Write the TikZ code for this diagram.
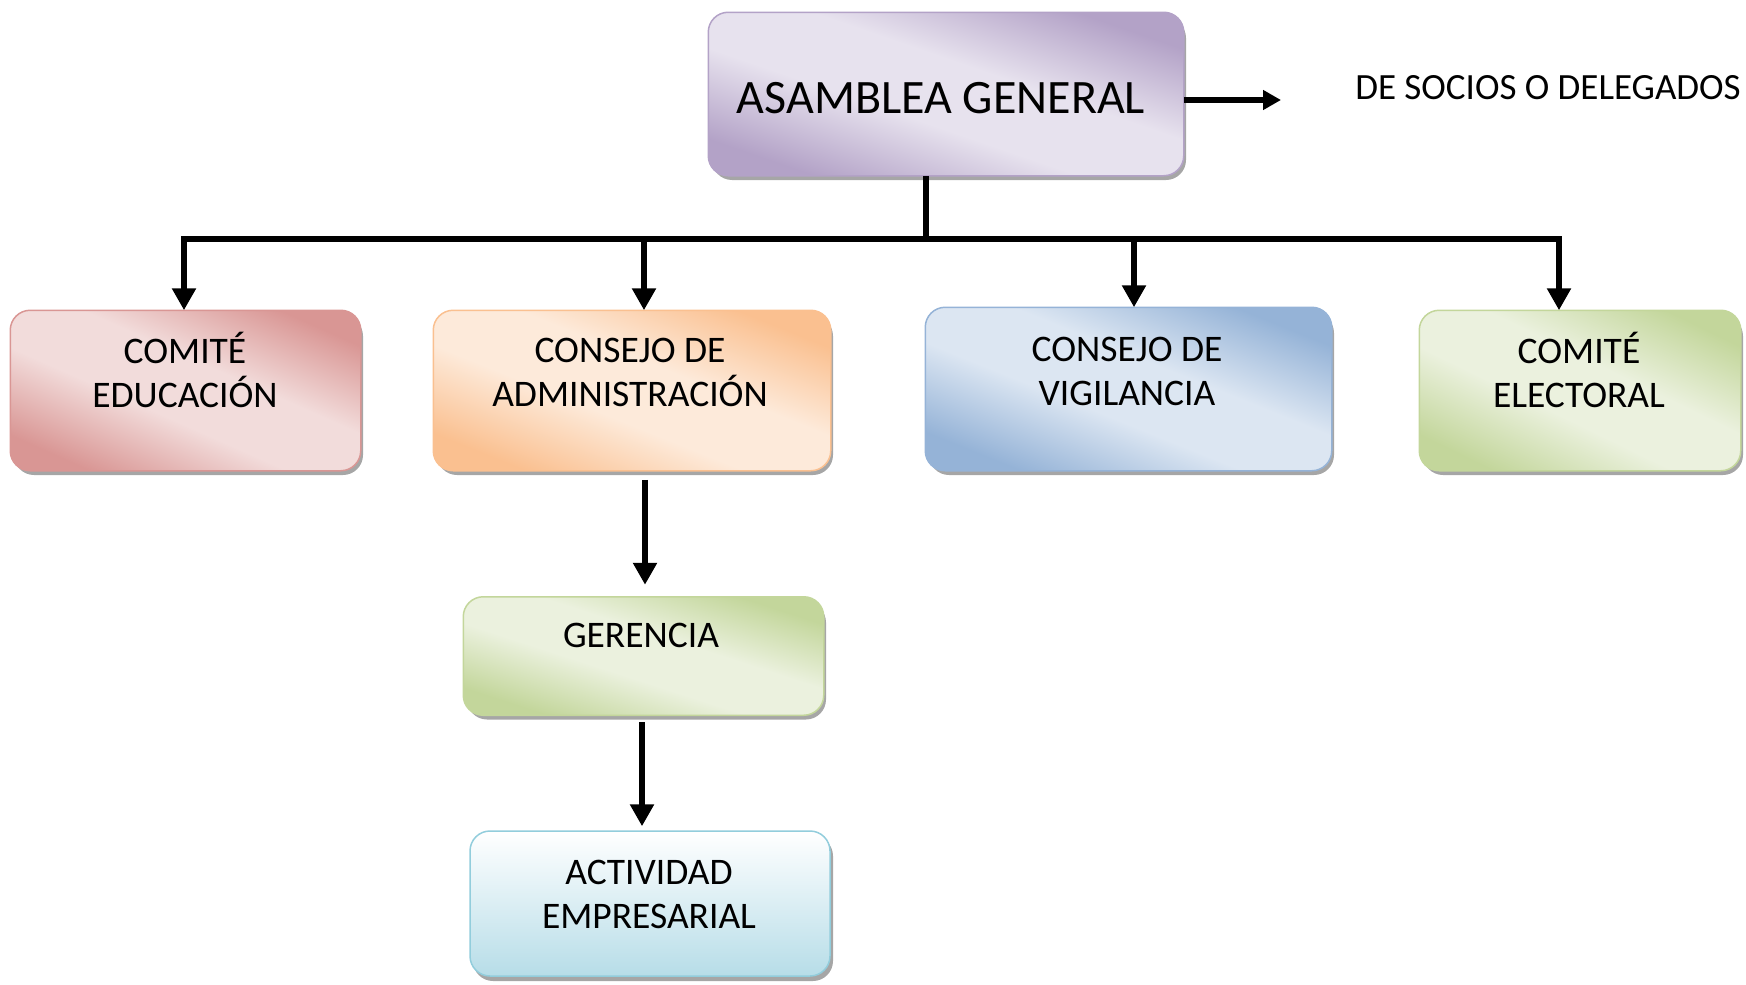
\documentclass[tikz,border=0pt]{standalone}
\usepackage{fontspec}
\setmainfont{Carlito}
\usetikzlibrary{arrows.meta,shadows,calc}
\definecolor{purD}{HTML}{B3A2C7}\definecolor{purL}{HTML}{E7E2EE}
\definecolor{redD}{HTML}{D99694}\definecolor{redL}{HTML}{F2DCDB}
\definecolor{orD}{HTML}{FAC090}\definecolor{orL}{HTML}{FDEADA}
\definecolor{bluD}{HTML}{95B3D7}\definecolor{bluL}{HTML}{DCE6F2}
\definecolor{grnD}{HTML}{C3D69B}\definecolor{grnL}{HTML}{EBF1DE}
\definecolor{aquD}{HTML}{B7DDE8}\definecolor{aquB}{HTML}{92CDDC}
\colorlet{sdark}{purD}\colorlet{slight}{purL}
\pgfdeclareverticalshading[sdark,slight]{band}{100bp}{color(0bp)=(sdark); color(25bp)=(sdark); color(43bp)=(slight); color(57bp)=(slight); color(75bp)=(sdark); color(100bp)=(sdark)}
\tikzset{
  boxshadow/.style={drop shadow={shadow xshift=3pt, shadow yshift=-5pt, fill=black, opacity=0.35}},
  orgbox/.style={rounded corners=20pt, draw=#1, fill=#1, line width=1.5pt, inner sep=0pt, boxshadow},
  aquabox/.style={rounded corners=20pt, draw=aquB, line width=1.5pt, inner sep=0pt,
    top color=white, bottom color=aquD, boxshadow},
  txt/.style={font=\fontsize{37.5}{44}\selectfont, align=center, inner sep=0pt},
  conn/.style={line width=5.5pt, black},
  arr/.style={conn, -{Triangle[width=23pt,length=22pt]}},
}
% #1 node, #2 dark, #3 light, #4 angle, #5 half height of gradient
\newcommand\gradfill[5]{%
  \begin{scope}
    \clip[rounded corners=20pt] (#1.south west) rectangle (#1.north east);
    \colorlet{sdark}{#2}\colorlet{slight}{#3}%
    \shade[shading=band, transform canvas={shift={(#1.center)},rotate=#4}] (-320,-#5) rectangle (320,#5);
  \end{scope}
  \draw[#2, line width=1.5pt, rounded corners=20pt] (#1.south west) rectangle (#1.north east);
}
\begin{document}
\begin{tikzpicture}[x=1pt,y=-1pt]
\useasboundingbox (0,0) rectangle (1746,985);
% boxes
\node[orgbox=purD, minimum width=474pt, minimum height=162pt] (asm) at (946,94) {};
\node[orgbox=redD, minimum width=349pt, minimum height=159pt] (edu) at (185.5,390.5) {};
\node[orgbox=orD, minimum width=396pt, minimum height=159pt] (adm) at (632,390.5) {};
\node[orgbox=bluD, minimum width=405pt, minimum height=162pt] (vig) at (1128.5,389) {};
\node[orgbox=grnD, minimum width=320pt, minimum height=159pt] (ele) at (1580,390.5) {};
\node[orgbox=grnD, minimum width=359pt, minimum height=117pt] (ger) at (643.5,656) {};
\node[aquabox, minimum width=360pt, minimum height=145pt] (act) at (650,903.5) {};
\gradfill{asm}{purD}{purL}{-19}{120}
\gradfill{edu}{redD}{redL}{-24}{112}
\gradfill{adm}{orD}{orL}{-22}{114}
\gradfill{vig}{bluD}{bluL}{-22}{116}
\gradfill{ele}{grnD}{grnL}{-26}{110}
\gradfill{ger}{grnD}{grnL}{-18}{86}
% texts
\node[font=\fontsize{48}{56}\selectfont, inner sep=0pt] (asmt) at (941,98) {ASAMBLEA GENERAL};
\node[txt] (edut) at (185,370) {COMITÉ\\EDUCACIÓN};
\node[txt] (admt) at (630,372) {CONSEJO DE\\ADMINISTRACIÓN};
\node[txt] (vigt) at (1127,371) {CONSEJO DE\\VIGILANCIA};
\node[txt] (elet) at (1579,370) {COMITÉ\\ELECTORAL};
\node[txt] (gert) at (641,635) {GERENCIA};
\node[txt] (actt) at (649,894) {ACTIVIDAD\\EMPRESARIAL};
\node[font=\fontsize{37}{42}\selectfont, anchor=east, inner sep=0pt] (soc) at (1741,88) {DE SOCIOS O DELEGADOS};
% connectors
\coordinate (ra) at (1281,100);
\draw[conn, -{Triangle[width=19pt,length=18pt]}] (asm.east |- ra) -- (ra);
\coordinate (bus) at (926,239);
\coordinate (b1) at (184,239);
\coordinate (b2) at (644,239);
\coordinate (b3) at (1134,239);
\coordinate (b4) at (1559,239);
\draw[conn] (bus |- asm.south) -- (bus);
\draw[conn, line cap=rect] (b1) -- (b4);
\draw[arr] (b1) -- (b1 |- edu.north);
\draw[arr] (b2) -- (b2 |- adm.north);
\draw[arr] (b3) -- (b3 |- vig.north);
\draw[arr] (b4) -- (b4 |- ele.north);
\coordinate (c1) at (645,0);
\coordinate (c2) at (642,0);
\draw[arr, shorten <=9pt, shorten >=12pt] (adm.south -| c1) -- (ger.north -| c1);
\draw[arr, shorten <=7pt, shorten >=4pt] (ger.south -| c2) -- (act.north -| c2);
\end{tikzpicture}
\end{document}
